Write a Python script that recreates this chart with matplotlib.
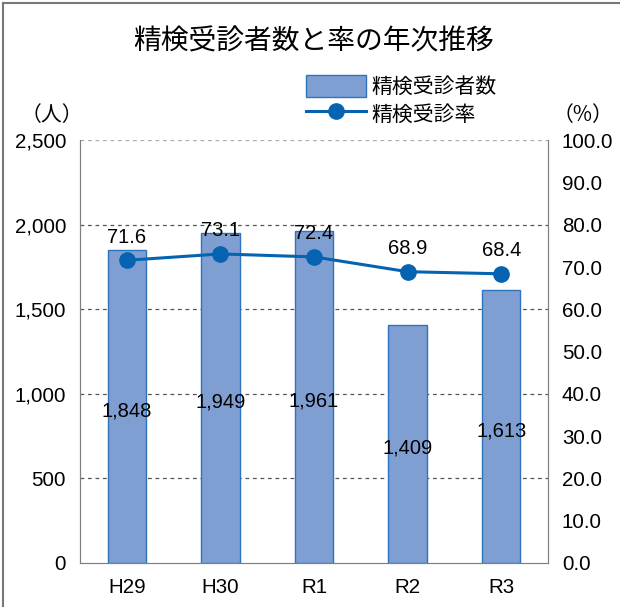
import numpy as np
import matplotlib
matplotlib.use('Agg')
import matplotlib.pyplot as plt
from matplotlib.lines import Line2D

plt.rcParams['font.family'] = ['Noto Sans CJK JP', 'DejaVu Sans']

years = ['H29', 'H30', 'R1', 'R2', 'R3']
examinees = [1848, 1949, 1961, 1409, 1613]
rate = [71.6, 73.1, 72.4, 68.9, 68.4]

bar_color = '#7f9fd3'
edge_color = '#2f72bf'
line_color = '#0563b2'
num_font = ['Liberation Sans', 'DejaVu Sans']

fig = plt.figure(figsize=(6.2, 6.07), dpi=100)
ax = fig.add_axes([0.129, 0.0725, 0.755, 0.6965])
x = np.arange(len(years))

ax.bar(x, examinees, width=0.41, color=bar_color, edgecolor=edge_color, linewidth=1.0, zorder=2)
ax.set_xlim(-0.5, 4.5)
ax.set_ylim(0, 2500)
ax.set_yticks(np.arange(0, 2501, 500))
ax.set_yticklabels([f'{v:,}' for v in range(0, 2501, 500)], fontfamily=num_font, fontsize=14.8)
ax.set_xticks(x)
ax.set_xticklabels(years, fontfamily=num_font, fontsize=14.8)
ax.tick_params(length=0, pad=10)
ax.tick_params(axis='x', pad=11)
for v in range(500, 2501, 500):
    ax.axhline(v, color='#555555' if v < 2500 else '#aaaaaa', linestyle=(0, (3, 3)), linewidth=0.9, zorder=1)
for s in ['left', 'bottom', 'right']:
    ax.spines[s].set_color('#808080')
ax.spines['top'].set_visible(False)

for xi, v in zip(x, examinees):
    ax.text(xi, v / 2 - 25, f'{v:,}', ha='center', va='center', fontsize=14.5, fontfamily=num_font, zorder=4)

ax2 = ax.twinx()
ax2.plot(x, rate, color=line_color, linewidth=2.2, marker='o', markersize=11, zorder=3)
ax2.set_ylim(0, 100)
ax2.set_yticks(np.arange(0, 101, 10))
ax2.set_yticklabels([f'{v:.1f}' for v in range(0, 101, 10)], fontfamily=num_font, fontsize=14.8)
ax2.tick_params(length=0, pad=10)
for s in ['left', 'bottom', 'right']:
    ax2.spines[s].set_color('#808080')
ax2.spines['top'].set_visible(False)
for xi, r in zip(x, rate):
    ax2.text(xi, r + 3.2, f'{r:.1f}', ha='center', va='bottom', fontsize=14.5, fontfamily=num_font)

fig.text(0.505, 0.931, '精検受診者数と率の年次推移', ha='center', va='center', fontsize=20)
fig.text(0.083, 0.81, '（人）', ha='center', va='center', fontsize=15)
fig.text(0.94, 0.81, '（%）', ha='center', va='center', fontsize=15)

handles = [plt.Rectangle((0, 0), 1, 1, facecolor=bar_color, edgecolor=edge_color),
           Line2D([], [], color=line_color, linewidth=2.2, marker='o', markersize=11)]
fig.legend(handles, ['精検受診者数', '精検受診率'], loc='center left',
           bbox_to_anchor=(0.4935, 0.835), frameon=False, fontsize=15,
           borderpad=0, borderaxespad=0,
           handlelength=2.9, handleheight=1.3, handletextpad=0.25, labelspacing=0.2)

# frame around the figure
fig.add_artist(Line2D([0.005, 0.005], [0, 0.995], color='#777777', linewidth=1.5))
fig.add_artist(Line2D([0.005, 1], [0.995, 0.995], color='#777777', linewidth=1.5))

fig.savefig('out.png', dpi=100)
